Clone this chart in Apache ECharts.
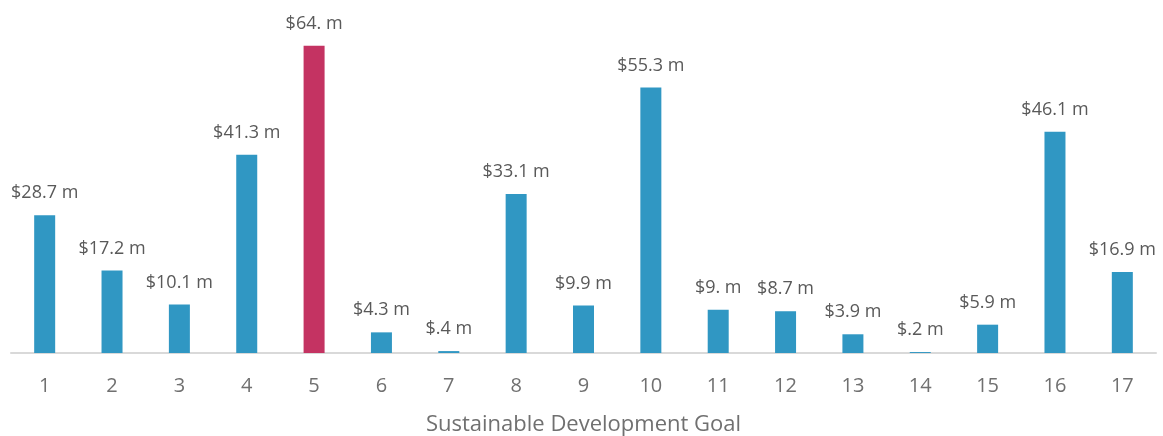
<!DOCTYPE html>
<html>
<head>
<meta charset="utf-8">
<script src="https://cdn.jsdelivr.net/npm/echarts@6/dist/echarts.min.js"></script>
<style>
  html, body { margin: 0; padding: 0; background: #fff; }
  #chart { width: 1163px; height: 436px; }
</style>
</head>
<body>
<div id="chart"></div>
<script>
const goals = ["1", "2", "3", "4", "5", "6", "7", "8", "9", "10", "11", "12", "13", "14", "15", "16", "17"];
const funding = [28.7, 17.2, 10.1, 41.3, 64.0, 4.3, 0.4, 33.1, 9.9, 55.3, 9.0, 8.7, 3.9, 0.2, 5.9, 46.1, 16.9];
const highlightGoal = "5";
const axisName = "Sustainable Development Goal";

const blue = "#3097c3";
const red = "#c43362";

// Excel-style label: "$64. m", "$.4 m"
const fmt = (v) => "$" + v.toFixed(1).replace(/^0/, "").replace(/0$/, "") + " m";

const chart = echarts.init(document.getElementById("chart"));

const option = {
  animation: false,
  grid: { left: 11, right: 7, top: 17, bottom: 83, outerBoundsMode: "none" },
  xAxis: {
    type: "category",
    data: goals,
    name: axisName,
    nameLocation: "middle",
    nameGap: 61,
    nameTextStyle: { fontFamily: "Open Sans", fontSize: 22, color: "#707070" },
    axisLine: { lineStyle: { color: "#d9d9d9", width: 2 } },
    axisTick: { show: false },
    axisLabel: { fontFamily: "Open Sans", fontSize: 20, color: "#707070", margin: 23 },
  },
  yAxis: {
    type: "value",
    min: 0,
    max: 70,
    show: false,
    splitLine: { show: false },
  },
  series: [
    {
      type: "bar",
      barWidth: 21,
      data: funding.map((v, i) => ({
        value: v,
        itemStyle: { color: goals[i] === highlightGoal ? red : blue },
      })),
      label: {
        show: true,
        position: "top",
        distance: 13,
        fontFamily: "Open Sans",
        fontSize: 18,
        color: "#595959",
        formatter: (p) => fmt(p.value),
      },
    },
  ],
};

chart.setOption(option);
</script>
</body>
</html>
